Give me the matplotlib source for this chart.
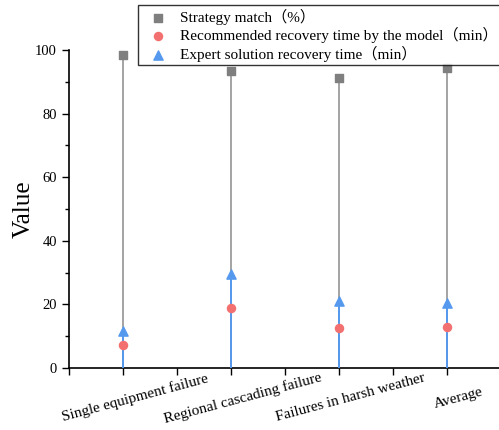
import matplotlib.pyplot as plt
from matplotlib.ticker import MultipleLocator, FixedLocator

plt.rcParams['font.family'] = ['Liberation Serif', 'Noto Sans CJK SC']

categories = ['Single equipment failure', 'Regional cascading failure',
              'Failures in harsh weather', 'Average']
strategy_match = [98.5, 93.5, 91.2, 94.4]
model_time = [7.1, 18.8, 12.5, 12.9]
expert_time = [11.8, 29.6, 21.0, 20.6]

x = [i + 0.5 for i in range(len(categories))]

gray = '#7f7f7f'
red = '#f27070'
blue = '#5599ee'

fig = plt.figure(figsize=(4.99, 4.30), dpi=100)
ax = fig.add_axes([0.138, 0.144, 0.866, 0.740])

# stems from zero up to each value
ax.vlines(x, 0, strategy_match, color='#8a8a8a', lw=1.1, zorder=1)
ax.vlines(x, 0, model_time, color=red, lw=1.1, zorder=2)
ax.vlines(x, 0, expert_time, color=blue, lw=1.4, zorder=3)

ax.scatter(x, strategy_match, marker='s', s=28, color=gray, zorder=4,
           label='Strategy match（%）')
ax.scatter(x, model_time, marker='o', s=34, color=red, zorder=4,
           label='Recommended recovery time by the model（min）')
ax.scatter(x, expert_time, marker='^', s=44, color=blue, zorder=4,
           label='Expert solution recovery time（min）')

ax.set_xlim(0, 4)
ax.set_ylim(0, 100)
ax.set_xticks(x)
ax.set_xticklabels([])
# category names, tilted and set a little right of each tick
for xi, name in zip(x, categories):
    ax.annotate(name, xy=(xi, 0), xycoords=('data', 'axes fraction'),
                xytext=(8.6, -21.6), textcoords='offset points',
                rotation=15, ha='center', va='center', fontsize=11,
                annotation_clip=False)
ax.xaxis.set_minor_locator(FixedLocator([0, 1, 2, 3, 4]))
ax.yaxis.set_major_locator(MultipleLocator(20))
ax.yaxis.set_minor_locator(MultipleLocator(10))
ax.tick_params(axis='both', which='major', direction='out', length=5,
               width=1, labelsize=10.5)
ax.tick_params(axis='both', which='minor', direction='out', length=3, width=1)
ax.tick_params(axis='x', which='minor', length=5)
ax.set_ylabel('Value', fontsize=18.3, labelpad=0)

for side in ['top', 'right']:
    ax.spines[side].set_visible(False)
for side in ['left', 'bottom']:
    ax.spines[side].set_linewidth(1.2)

leg = fig.legend(loc='upper left',
                 bbox_to_anchor=(138 / 499, 1 - 5 / 430 - 0.01, 0.75, 0.01),
                 mode='expand', borderaxespad=0,
                 fontsize=11, frameon=True, fancybox=False, edgecolor='black',
                 borderpad=0.25, handletextpad=0.38, labelspacing=0.15,
                 handlelength=2.1)
leg.get_frame().set_linewidth(1.0)

fig.savefig('out.png', dpi=100)
